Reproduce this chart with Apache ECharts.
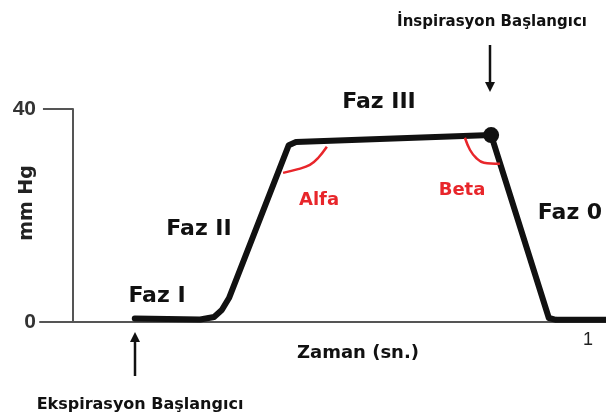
<!DOCTYPE html>
<html>
<head>
<meta charset="utf-8">
<script src="https://cdn.jsdelivr.net/npm/echarts@6/dist/echarts.min.js"></script>
<style>
  html, body { margin: 0; padding: 0; background: #fff; }
  #chart { width: 606px; height: 416px; }
</style>
</head>
<body>
<div id="chart"></div>
<script>
  // kapnogram egrisi: [zaman (sn), mmHg]
  var capnoCurve = [
    [0.120, 0.66], [0.247, 0.47], [0.274, 0.94], [0.289, 2.25], [0.303, 4.5],
    [0.419, 33.2], [0.433, 33.8], [0.812, 35.1],
    [0.924, 0.75], [0.938, 0.4], [1.035, 0.4]
  ];
  var endPoint = [[0.812, 35.1]];
  // aci isaretleri
  var alfaCurve = [[0.493, 32.9], [0.476, 30.8], [0.460, 29.5], [0.437, 28.7], [0.408, 28.0]];
  var betaCurve = [[0.761, 34.6], [0.771, 32.3], [0.783, 30.8], [0.798, 29.9], [0.829, 29.7]];
  var yTicks = [0, 40];
  var xTicks = [1];

  var chart = echarts.init(document.getElementById('chart'));

  var font = 'Liberation Sans, Arial, sans-serif';
  var wideFont = 'DejaVu Sans, Verdana, sans-serif';
  function txt(x, y, s, size, color, rot) {
    return {
      type: 'text', x: x, y: y, rotation: rot || 0,
      style: {
        text: s, fontSize: size, fontWeight: 'bold', fontFamily: wideFont,
        fill: color || '#111', align: 'center', verticalAlign: 'middle'
      }
    };
  }
  function arrow(x, y1, y2) {
    // y2 = ok ucu
    var dir = y2 < y1 ? -1 : 1;
    return {
      type: 'group',
      children: [
        { type: 'line', shape: { x1: x, y1: y1, x2: x, y2: y2 - dir * 8 }, style: { stroke: '#111', lineWidth: 2.5 } },
        { type: 'polygon', shape: { points: [[x - 5, y2 - dir * 10], [x + 5, y2 - dir * 10], [x, y2]] }, style: { fill: '#111' } }
      ]
    };
  }

  var option = {
    animation: false,
    grid: { left: 40, right: 0, top: 109, bottom: 94, containLabel: false, outerBoundsMode: 'none' },
    xAxis: {
      type: 'value', min: -0.064, max: 1.035,
      axisLine: { onZero: false, lineStyle: { color: '#555', width: 2 } },
      axisTick: { show: false },
      splitLine: { show: false },
      axisLabel: {
        customValues: xTicks, margin: 9,
        fontSize: 18, color: '#222', fontFamily: font
      }
    },
    yAxis: {
      type: 'value', min: 0, max: 40,
      axisLine: { onZero: true, lineStyle: { color: '#555', width: 2 } },
      axisTick: { show: true, length: 30, customValues: yTicks, lineStyle: { color: '#555', width: 2 } },
      splitLine: { show: false },
      axisLabel: {
        customValues: yTicks, margin: 4,
        fontSize: 21, fontWeight: 'bold', color: '#333', fontFamily: font
      }
    },
    series: [
      {
        type: 'line', data: capnoCurve, symbol: 'none', smooth: false,
        lineStyle: { color: '#111', width: 6, join: 'round', cap: 'round' }
      },
      {
        type: 'line', data: alfaCurve, symbol: 'none', smooth: 0.4,
        lineStyle: { color: '#e8262b', width: 2.5 }
      },
      {
        type: 'line', data: betaCurve, symbol: 'none', smooth: 0.4,
        lineStyle: { color: '#e8262b', width: 2.5 }
      },
      {
        type: 'scatter', data: endPoint, symbolSize: 16,
        itemStyle: { color: '#111', opacity: 1 }
      }
    ],
    graphic: [
      txt(27, 203, 'mm Hg', 19, '#222', Math.PI / 2),
      txt(157, 296, 'Faz I', 22),
      txt(199, 229, 'Faz II', 22),
      txt(379, 102, 'Faz III', 22),
      txt(570, 213, 'Faz 0', 22),
      txt(319, 200, 'Alfa', 18, '#e8262b'),
      txt(462, 190, 'Beta', 18, '#e8262b'),
      txt(358, 353, 'Zaman (sn.)', 18),
      txt(140, 405, 'Ekspirasyon Başlangıcı', 16),
      txt(492, 22, 'İnspirasyon Başlangıcı', 15),
      arrow(135, 376, 332),
      arrow(490, 45, 92)
    ]
  };

  chart.setOption(option);
</script>
</body>
</html>
